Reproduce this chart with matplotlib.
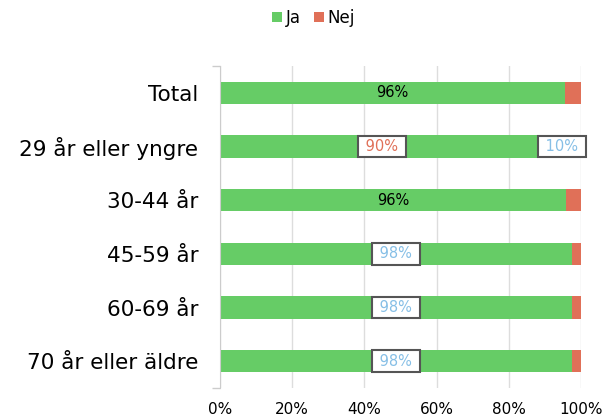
import matplotlib
matplotlib.use("Agg")
import matplotlib.pyplot as plt
import numpy as np

categories = ["Total", "29 år eller yngre", "30-44 år", "45-59 år", "60-69 år", "70 år eller äldre"]
ja = [95.6, 89.6, 95.8, 97.5, 97.6, 97.6]
nej = [100 - v for v in ja]
series_names = ["Ja", "Nej"]
xticks = [0, 20, 40, 60, 80, 100]

green = "#66cc66"
red = "#e07058"
blue = "#86bfe6"

plt.rcParams["font.family"] = ["DejaVu Sans"]

fig = plt.figure(figsize=(6.03, 4.17), dpi=100)
ax = fig.add_axes([220 / 603, 1 - 388 / 417, 361 / 603, 322 / 417])

y = np.arange(len(categories))
ax.barh(y, ja, height=0.41, color=green, label=series_names[0], zorder=2)
ax.barh(y, nej, left=ja, height=0.41, color=red, label=series_names[1], zorder=2)

box = dict(boxstyle="square,pad=0.22", fc="white", ec="#555555", lw=1.5)
for i, v in enumerate(ja):
    txt = f"{round(v)}%"
    if categories[i] in ("Total", "30-44 år"):
        ax.text(v / 2, i, txt, ha="center", va="center", fontsize=10.5, color="black", zorder=3)
    elif categories[i] == "29 år eller yngre":
        ax.text(v / 2, i, f" {txt} ", ha="center", va="center", fontsize=10.5, color=red, bbox=box, zorder=3)
        ax.text(v + nej[i] / 2, i, f" {round(nej[i])}% ", ha="center", va="center",
                fontsize=10.5, color=blue, bbox=box, zorder=3)
    else:
        ax.text(v / 2, i, f" {txt} ", ha="center", va="center", fontsize=10.5, color=blue, bbox=box, zorder=3)

ax.set_xlim(0, 100)
ax.set_ylim(len(categories) - 0.5, -0.5)
ax.set_xticks(xticks)
ax.set_xticklabels([f"{t}%" for t in xticks], fontsize=11)
ax.set_yticks(y)
ax.set_yticklabels(categories, fontsize=15.5)
ax.tick_params(axis="y", length=0, pad=15.5)
ax.tick_params(axis="x", length=0, pad=10)
ax.set_yticks([-0.5, len(categories) - 0.5], minor=True)
ax.tick_params(axis="y", which="minor", length=6, color="#cccccc", width=1)
ax.grid(axis="x", color="#dddddd", lw=1, zorder=0)
for s in ["top", "right", "bottom"]:
    ax.spines[s].set_visible(False)
ax.spines["left"].set_color("#cccccc")

fig.legend(loc="upper center", bbox_to_anchor=(0.52, 1.015), ncol=2, frameon=False,
           fontsize=12, handlelength=0.6, handleheight=0.6, handletextpad=0.2, columnspacing=0.8)

fig.savefig("out.png", dpi=100)
